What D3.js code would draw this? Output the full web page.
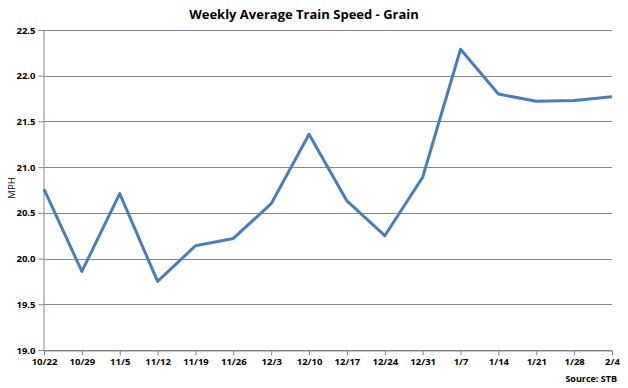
<!DOCTYPE html>
<html>
<head>
<meta charset="utf-8">
<script src="https://cdn.jsdelivr.net/npm/d3@7"></script>
<style>
  body { margin: 0; background: #fff; }
  text { font-family: "Open Sans", "Noto Sans", sans-serif; }
</style>
</head>
<body>
<svg id="chart" width="628" height="388"></svg>
<script>
var weeks = ["10/22", "10/29", "11/5", "11/12", "11/19", "11/26", "12/3", "12/10",
  "12/17", "12/24", "12/31", "1/7", "1/14", "1/21", "1/28", "2/4"];
var speed = [20.76, 19.86, 20.71, 19.75, 20.14, 20.22, 20.60, 21.36,
  20.63, 20.25, 20.89, 22.29, 21.80, 21.72, 21.73, 21.77];
var yTicks = [19.0, 19.5, 20.0, 20.5, 21.0, 21.5, 22.0, 22.5];

var margin = {top: 30, right: 16, bottom: 38, left: 44},
  width = 628,
  height = 388;

var svg = d3.select("#chart");

var x = d3.scalePoint()
  .domain(weeks)
  .range([margin.left, width - margin.right]);

var y = d3.scaleLinear()
  .domain([19, 22.5])
  .range([height - margin.bottom, margin.top]);

// gridlines
svg.append("g")
  .selectAll("line")
  .data(yTicks)
  .enter().append("line")
    .attr("x1", margin.left)
    .attr("x2", width - margin.right)
    .attr("y1", function(d) { return Math.round(y(d)) + 0.5; })
    .attr("y2", function(d) { return Math.round(y(d)) + 0.5; })
    .attr("stroke", "#868686")
    .attr("stroke-width", 1);

// y axis
var yAxis = svg.append("g")
  .attr("transform", "translate(" + (margin.left - 0.5) + ",0)")
  .call(d3.axisLeft(y).tickValues(yTicks).tickFormat(d3.format(".1f")).tickSize(5));
yAxis.select(".domain").attr("stroke", "#868686");
yAxis.selectAll(".tick line").attr("stroke", "#868686");
yAxis.selectAll("text")
  .attr("font-size", 9.5)
  .attr("font-weight", "bold")
  .attr("fill", "#000")
  .attr("x", -8);

// x axis
var xAxis = svg.append("g")
  .attr("transform", "translate(0," + (Math.round(y(19)) + 0.5) + ")")
  .call(d3.axisBottom(x).tickSize(5).tickSizeOuter(0));
xAxis.select(".domain").attr("stroke", "#868686");
xAxis.selectAll(".tick line").attr("stroke", "#868686");
xAxis.selectAll("text")
  .attr("font-size", 9.5)
  .attr("font-weight", "bold")
  .attr("fill", "#000")
  .attr("y", 8);

// line
var line = d3.line()
  .x(function(d, i) { return x(weeks[i]); })
  .y(function(d) { return y(d); });

svg.append("path")
  .datum(speed)
  .attr("fill", "none")
  .attr("stroke", "#4a7ebb")
  .attr("stroke-width", 3)
  .attr("stroke-linejoin", "round")
  .attr("d", line);

// title
svg.append("text")
  .attr("x", 304)
  .attr("y", 19)
  .attr("text-anchor", "middle")
  .attr("font-size", 13)
  .attr("font-weight", "bold")
  .text("Weekly Average Train Speed - Grain");

// y label
svg.append("text")
  .attr("transform", "translate(15,188) rotate(-90)")
  .attr("text-anchor", "middle")
  .attr("font-size", 9.5)
  .text("MPH");

// source
svg.append("text")
  .attr("x", 617)
  .attr("y", 382)
  .attr("text-anchor", "end")
  .attr("font-size", 9)
  .attr("font-weight", "bold")
  .text("Source:  STB");
</script>
</body>
</html>
